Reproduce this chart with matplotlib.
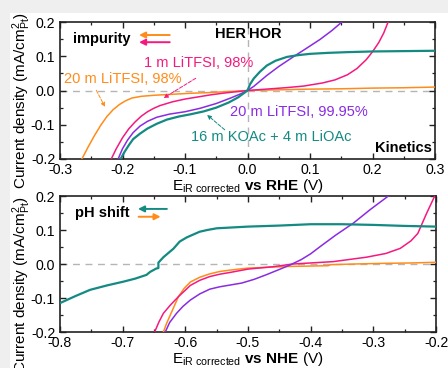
import matplotlib
matplotlib.use('Agg')
import matplotlib.pyplot as plt
from matplotlib.patches import Rectangle
from matplotlib.ticker import MultipleLocator, FormatStrFormatter

plt.rcParams['font.family'] = ['Liberation Sans', 'DejaVu Sans']
plt.rcParams['mathtext.fontset'] = 'custom'
plt.rcParams['mathtext.rm'] = 'Liberation Sans'
plt.rcParams['mathtext.bf'] = 'Liberation Sans:bold'
plt.rcParams['mathtext.it'] = 'Liberation Sans:italic'
plt.rcParams['axes.unicode_minus'] = False

ORANGE = '#ff8c1a'
PINK = '#f5197f'
PURPLE = '#8a2be2'
TEAL = '#138a82'

# ---- top panel: potential vs RHE ----
rhe_orange_x = [-0.265, -0.255, -0.245, -0.235, -0.225, -0.215, -0.205, -0.195, -0.185, -0.17,
                -0.15, -0.12, -0.09, -0.06, -0.03, 0.0, 0.05, 0.1, 0.15, 0.2, 0.25, 0.3]
rhe_orange_y = [-0.2, -0.165, -0.132, -0.102, -0.076, -0.056, -0.041, -0.03, -0.022, -0.017,
                -0.014, -0.011, -0.008, -0.006, -0.003, 0.0, 0.002, 0.004, 0.005, 0.007, 0.008, 0.01]

rhe_pink_x = [-0.218, -0.21, -0.2, -0.19, -0.18, -0.17, -0.16, -0.15, -0.14, -0.12, -0.1, -0.08,
              -0.06, -0.04, -0.02, 0.0, 0.03, 0.06, 0.09, 0.12, 0.14, 0.16, 0.175, 0.19, 0.2,
              0.21, 0.218, 0.225]
rhe_pink_y = [-0.2, -0.17, -0.138, -0.112, -0.092, -0.075, -0.062, -0.052, -0.044, -0.033, -0.025,
              -0.019, -0.013, -0.008, -0.004, 0.0, 0.004, 0.008, 0.013, 0.022, 0.031, 0.046, 0.064,
              0.09, 0.113, 0.14, 0.168, 0.2]

rhe_purple_x = [-0.207, -0.2, -0.192, -0.183, -0.172, -0.16, -0.145, -0.125, -0.1, -0.076, -0.05,
                -0.027, -0.01, 0.0, 0.01, 0.031, 0.05, 0.073, 0.095, 0.116, 0.135, 0.151]
rhe_purple_y = [-0.2, -0.17, -0.145, -0.123, -0.104, -0.09, -0.078, -0.069, -0.062, -0.052, -0.038,
                -0.022, -0.009, 0.0, 0.012, 0.044, 0.07, 0.098, 0.124, 0.149, 0.175, 0.2]

rhe_teal_x = [-0.203, -0.197, -0.19, -0.183, -0.172, -0.16, -0.145, -0.129, -0.11, -0.09, -0.07,
              -0.05, -0.03, -0.015, 0.0, 0.004, 0.01, 0.02, 0.031, 0.045, 0.063, 0.08, 0.1, 0.13,
              0.16, 0.2, 0.25, 0.3]
rhe_teal_y = [-0.2, -0.18, -0.16, -0.142, -0.126, -0.111, -0.097, -0.085, -0.076, -0.069, -0.061,
              -0.05, -0.035, -0.02, 0.0, 0.018, 0.035, 0.055, 0.073, 0.087, 0.098, 0.103, 0.107,
              0.11, 0.112, 0.114, 0.115, 0.116]

# ---- bottom panel: potential vs NHE ----
nhe_orange_x = [-0.635, -0.63, -0.624, -0.618, -0.611, -0.602, -0.592, -0.577, -0.561, -0.545,
                -0.529, -0.5, -0.46, -0.43, -0.4, -0.372, -0.368, -0.33, -0.28, -0.24, -0.2]
nhe_orange_y = [-0.2, -0.175, -0.15, -0.125, -0.096, -0.072, -0.053, -0.039, -0.029, -0.022,
                -0.018, -0.012, -0.009, -0.007, -0.006, -0.005, -0.002, 0.0, 0.002, 0.003, 0.005]

nhe_pink_x = [-0.649, -0.642, -0.635, -0.624, -0.611, -0.6, -0.592, -0.577, -0.561, -0.545, -0.529,
              -0.5, -0.46, -0.428, -0.364, -0.311, -0.28, -0.257, -0.24, -0.229, -0.215, -0.202]
nhe_pink_y = [-0.2, -0.17, -0.145, -0.121, -0.096, -0.077, -0.063, -0.048, -0.037, -0.03, -0.025,
              -0.015, -0.008, 0.0, 0.007, 0.02, 0.031, 0.046, 0.068, 0.09, 0.149, 0.2]

nhe_purple_x = [-0.632, -0.625, -0.614, -0.604, -0.592, -0.577, -0.561, -0.545, -0.529, -0.51,
                -0.49, -0.47, -0.45, -0.433, -0.415, -0.4, -0.385, -0.36, -0.332, -0.305, -0.276]
nhe_purple_y = [-0.2, -0.172, -0.145, -0.125, -0.106, -0.088, -0.074, -0.067, -0.062, -0.056,
                -0.045, -0.031, -0.016, -0.003, 0.013, 0.03, 0.051, 0.085, 0.12, 0.16, 0.2]

nhe_teal_x = [-0.8, -0.775, -0.752, -0.725, -0.699, -0.68, -0.662, -0.656, -0.646, -0.643, -0.643,
              -0.635, -0.619, -0.609, -0.598, -0.587, -0.577, -0.565, -0.55, -0.52, -0.5, -0.45,
              -0.4, -0.35, -0.3, -0.25, -0.2]
nhe_teal_y = [-0.115, -0.094, -0.076, -0.063, -0.052, -0.043, -0.032, -0.023, -0.013, -0.012, 0.004,
              0.02, 0.045, 0.066, 0.078, 0.087, 0.095, 0.1, 0.105, 0.108, 0.11, 0.113, 0.117,
              0.117, 0.115, 0.112, 0.11]

fig = plt.figure(figsize=(4.48, 3.68), dpi=100, facecolor='#efefef')
fig.add_artist(Rectangle((10 / 448, 0), 1, 1 - 13 / 368, transform=fig.transFigure,
                         facecolor='white', edgecolor='none', zorder=-10))

ax1 = fig.add_axes([60 / 448, 1 - 159 / 368, 375 / 448, 137 / 368])
ax2 = fig.add_axes([60 / 448, 1 - 332 / 368, 376 / 448, 136 / 368])


def style_axes(ax, xlim):
    ax.set_xlim(*xlim)
    ax.set_ylim(-0.2, 0.2)
    ax.xaxis.set_major_locator(MultipleLocator(0.1))
    ax.xaxis.set_minor_locator(MultipleLocator(0.05))
    ax.yaxis.set_major_locator(MultipleLocator(0.1))
    ax.yaxis.set_minor_locator(MultipleLocator(0.05))
    ax.xaxis.set_major_formatter(FormatStrFormatter('%.1f'))
    ax.yaxis.set_major_formatter(FormatStrFormatter('%.1f'))
    ax.tick_params(which='both', direction='in', top=True, right=True, color='#222222',
                   labelsize=10.2)
    ax.tick_params(which='major', length=4, width=1)
    ax.tick_params(which='minor', length=2.2, width=0.9)
    ax.tick_params(axis='x', pad=3)
    ax.tick_params(axis='y', pad=3.5)
    for s in ax.spines.values():
        s.set_linewidth(1.2)
        s.set_color('#222222')
    ax.axhline(0, color='#b5b5b5', ls=(0, (5, 4)), lw=1, zorder=1)


# top panel
style_axes(ax1, (-0.3, 0.3))
ax1.axvline(0, color='#b5b5b5', ls=(0, (5, 4)), lw=1, zorder=1)
ax1.plot(rhe_orange_x, rhe_orange_y, color=ORANGE, lw=1.1, zorder=3)
ax1.plot(rhe_pink_x, rhe_pink_y, color=PINK, lw=1.1, zorder=3)
ax1.plot(rhe_purple_x, rhe_purple_y, color=PURPLE, lw=1.1, zorder=3)
ax1.plot(rhe_teal_x, rhe_teal_y, color=TEAL, lw=1.6, zorder=3)

ax1.text(-0.279, 0.150, 'impurity', fontsize=10.5, fontweight='bold', va='center')
ax1.annotate('', xy=(-0.178, 0.162), xytext=(-0.12, 0.162),
             arrowprops=dict(arrowstyle='-|>', color=ORANGE, lw=1.4, mutation_scale=9))
ax1.annotate('', xy=(-0.178, 0.141), xytext=(-0.12, 0.141),
             arrowprops=dict(arrowstyle='-|>', color=PINK, lw=1.4, mutation_scale=9))
ax1.text(-0.003, 0.165, 'HER', fontsize=10.5, fontweight='bold', ha='right', va='center')
ax1.text(0.003, 0.165, 'HOR', fontsize=10.5, fontweight='bold', ha='left', va='center')
ax1.text(0.295, -0.168, 'Kinetics', fontsize=10.5, fontweight='bold', ha='right', va='center')

ax1.text(-0.079, 0.080, '1 m LiTFSI, 98%', color=PINK, fontsize=10.5, ha='center', va='center')
ax1.annotate('', xy=(-0.138, -0.026), xytext=(-0.079, 0.04),
             arrowprops=dict(arrowstyle='-|>', color=PINK, lw=0.7, ls='--', mutation_scale=6))
ax1.text(-0.2, 0.034, '20 m LiTFSI, 98%', color=ORANGE, fontsize=10.5, ha='center', va='center')
ax1.annotate('', xy=(-0.226, -0.055), xytext=(-0.244, 0.008),
             arrowprops=dict(arrowstyle='-|>', color=ORANGE, lw=0.7, ls='--', mutation_scale=6))
ax1.text(0.082, -0.064, '20 m LiTFSI, 99.95%', color=PURPLE, fontsize=10.5, ha='center',
         va='center')
ax1.text(0.038, -0.137, '16 m KOAc + 4 m LiOAc', color=TEAL, fontsize=10.5, ha='center',
         va='center')
ax1.annotate('', xy=(-0.068, -0.066), xytext=(-0.033, -0.12),
             arrowprops=dict(arrowstyle='-|>', color=TEAL, lw=0.7, ls='--', mutation_scale=6))

ax1.set_xlabel(r'E$_{\mathrm{iR\ corrected}}$ $\mathbf{vs\ RHE}$ (V)', fontsize=11, labelpad=0)

# bottom panel
style_axes(ax2, (-0.8, -0.2))
ax2.plot(nhe_orange_x, nhe_orange_y, color=ORANGE, lw=1.1, zorder=3)
ax2.plot(nhe_pink_x, nhe_pink_y, color=PINK, lw=1.1, zorder=3)
ax2.plot(nhe_purple_x, nhe_purple_y, color=PURPLE, lw=1.1, zorder=3)
ax2.plot(nhe_teal_x, nhe_teal_y, color=TEAL, lw=1.6, zorder=3)

ax2.text(-0.776, 0.150, 'pH shift', fontsize=10.5, fontweight='bold', va='center')
ax2.annotate('', xy=(-0.68, 0.162), xytext=(-0.625, 0.162),
             arrowprops=dict(arrowstyle='-|>', color=TEAL, lw=1.4, mutation_scale=9))
ax2.annotate('', xy=(-0.635, 0.139), xytext=(-0.679, 0.139),
             arrowprops=dict(arrowstyle='-|>', color=ORANGE, lw=1.4, mutation_scale=9))

ax2.set_xlabel(r'E$_{\mathrm{iR\ corrected}}$ $\mathbf{vs\ NHE}$ (V)', fontsize=11, labelpad=0)

ylab = r'Current density (mA/cm$^{2}_{\mathrm{Pt}}$)'
fig.text(22 / 448, 1 - 101 / 368, ylab, rotation=90, fontsize=11, ha='center', va='center')
fig.text(22 / 448, 1 - 285 / 368, ylab, rotation=90, fontsize=11, ha='center', va='center')

fig.savefig('out.png', dpi=100, facecolor=fig.get_facecolor())
